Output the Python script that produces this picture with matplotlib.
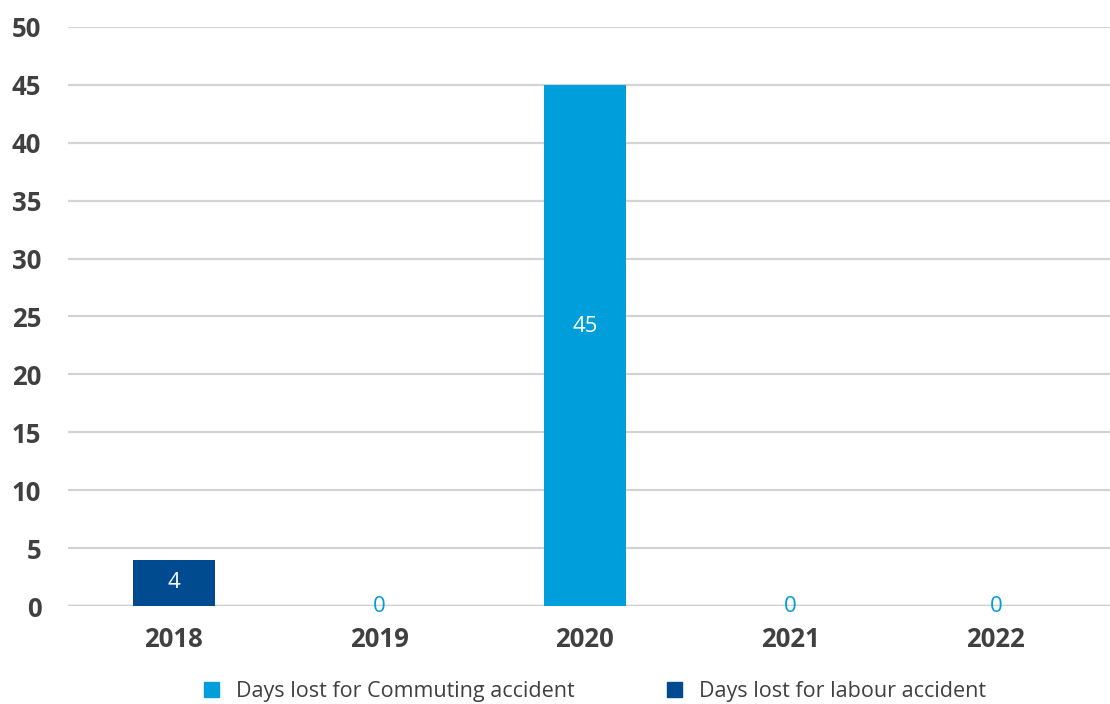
import numpy as np
import matplotlib
matplotlib.use("Agg")
import matplotlib.pyplot as plt
from matplotlib.patches import Patch

plt.rcParams['font.family'] = ['Open Sans', 'DejaVu Sans']

years = ['2018', '2019', '2020', '2021', '2022']
commuting = [0, 0, 45, 0, 0]
labour = [4, 0, 0, 0, 0]

LIGHT = '#009FDB'
DARK = '#004A8F'
GREY = '#404040'

fig = plt.figure(figsize=(11.1, 7.04), dpi=100)
ax = fig.add_axes([0.061, 0.139, 0.939, 0.823])

x = np.arange(len(years))
w = 0.4
ax.bar(x, labour, w, color=DARK, zorder=3)
ax.bar(x, commuting, w, bottom=labour, color=LIGHT, zorder=3)

# value labels
for i in range(len(years)):
    tot = labour[i] + commuting[i]
    if tot == 0:
        ax.text(x[i], 0, '0', ha='center', va='center', color=LIGHT,
                fontsize=16, zorder=4)
        continue
    if labour[i]:
        ax.text(x[i], labour[i] / 2, str(labour[i]), ha='center', va='center',
                color='white', fontsize=16, zorder=4)
    if commuting[i]:
        ax.text(x[i], labour[i] + commuting[i] * 0.537, str(commuting[i]),
                ha='center', va='center', color='white', fontsize=16, zorder=4)

ax.set_ylim(0, 50)
ax.set_xlim(-0.516, 4.555)
ax.set_yticks(range(0, 51, 5))
ax.set_xticks(x)
ax.set_xticklabels(years)
ax.yaxis.grid(True, color='#d4d4d4', linewidth=1.6, zorder=0)
ax.axhline(0, color='#cfcfcf', linewidth=2.5, zorder=2)
for s in ax.spines.values():
    s.set_visible(False)
ax.tick_params(length=0, labelsize=18.5, labelcolor=GREY)
ax.tick_params(axis='x', pad=14)
ax.tick_params(axis='y', pad=19)
for lab in ax.get_xticklabels() + ax.get_yticklabels():
    lab.set_fontweight('bold')

handles = [Patch(color=LIGHT, label='Days lost for Commuting accident'),
           Patch(color=DARK, label='Days lost for labour accident')]
fig.legend(handles=handles, loc='center', bbox_to_anchor=(0.536, 0.018),
           ncol=2, frameon=False, fontsize=15.5, handlelength=0.7,
           handleheight=0.7, columnspacing=4.25, handletextpad=0.8,
           labelcolor=GREY)

fig.savefig('out.png', dpi=100)
